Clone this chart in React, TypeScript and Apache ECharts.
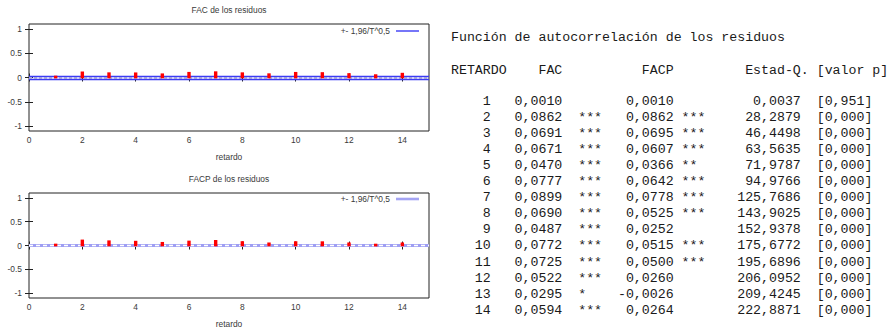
import React, { useEffect, useRef } from 'react';
import * as echarts from 'echarts';

// ---- data ----
const lags = [1, 2, 3, 4, 5, 6, 7, 8, 9, 10, 11, 12, 13, 14];
const facValues = [0.001, 0.0862, 0.0691, 0.0671, 0.047, 0.0777, 0.0899, 0.069, 0.0487, 0.0772, 0.0725, 0.0522, 0.0295, 0.0594];
const facStars = ['', '***', '***', '***', '***', '***', '***', '***', '***', '***', '***', '***', '*', '***'];
const facpValues = [0.001, 0.0862, 0.0695, 0.0607, 0.0366, 0.0642, 0.0778, 0.0525, 0.0252, 0.0515, 0.05, 0.026, -0.0026, 0.0264];
const facpStars = ['', '***', '***', '***', '**', '***', '***', '***', '', '***', '***', '', '', ''];
const qStats = [0.0037, 28.2879, 46.4498, 63.5635, 71.9787, 94.9766, 125.7686, 143.9025, 152.9378, 175.6772, 195.6896, 206.0952, 209.4245, 222.8871];
const pValues = [0.951, 0, 0, 0, 0, 0, 0, 0, 0, 0, 0, 0, 0, 0];
const xTicks = [0, 2, 4, 6, 8, 10, 12, 14];
const yTicks = [-1, -0.5, 0, 0.5, 1];
const bandLimit = 0.032; // 1,96/T^0,5
const chartTitles = ['FAC de los residuos', 'FACP de los residuos'];
const legendLabel = '+- 1,96/T^0,5';
const xAxisName = 'retardo';
const tableTitle = 'Función de autocorrelación de los residuos';
const tableHeaders = ['RETARDO', 'FAC', 'FACP', 'Estad-Q.', '[valor p]'];

const fmt = (v: number, d: number) => v.toFixed(d).replace('.', ',');

const SANS = '"Liberation Sans", Arial, sans-serif';
const MONO = '"Liberation Mono", "Courier New", monospace';
const TXT = '#3a3a3a';
const FS = 8.4;

export default function App() {
  const ref = useRef<HTMLDivElement>(null);

  useEffect(() => {
    if (!ref.current) return;
    const chart = echarts.init(ref.current, undefined, { renderer: 'svg' });

    const grids = [
      { left: 29, top: 24, width: 400, height: 107 },
      { left: 29, top: 193, width: 400, height: 106 },
    ];

    const xAxes: any[] = [];
    const yAxes: any[] = [];
    grids.forEach((_, g) => {
      xAxes.push({
        gridIndex: g, type: 'value', min: 0, max: 15, position: 'bottom',
        axisLine: { show: false }, splitLine: { show: false },
        axisTick: { show: true, inside: true, length: 4, customValues: xTicks, lineStyle: { color: '#222' } },
        axisLabel: { show: true, customValues: xTicks, margin: 5, fontSize: FS, fontFamily: SANS, color: TXT },
        name: xAxisName, nameLocation: 'middle', nameGap: 22,
        nameTextStyle: { fontSize: FS, fontFamily: SANS, color: TXT },
      });
      xAxes.push({
        gridIndex: g, type: 'value', min: 0, max: 15, position: 'top',
        axisLine: { show: false }, splitLine: { show: false },
        axisTick: { show: true, inside: true, length: 4, customValues: xTicks, lineStyle: { color: '#222' } },
        axisLabel: { show: false },
      });
      yAxes.push({
        gridIndex: g, type: 'value', min: -1.1, max: 1.1, position: 'left',
        axisLine: { show: false }, splitLine: { show: false },
        axisTick: { show: true, inside: true, length: 4, customValues: yTicks, lineStyle: { color: '#222' } },
        axisLabel: { show: true, customValues: yTicks, margin: 7, fontSize: FS, fontFamily: SANS, color: TXT },
      });
      yAxes.push({
        gridIndex: g, type: 'value', min: -1.1, max: 1.1, position: 'right',
        axisLine: { show: false }, splitLine: { show: false },
        axisTick: { show: true, inside: true, length: 4, customValues: yTicks, lineStyle: { color: '#222' } },
        axisLabel: { show: false },
      });
    });

    const stemSeries = (g: number, values: number[]) => ({
      type: 'custom',
      xAxisIndex: g * 2, yAxisIndex: g * 2,
      z: 5,
      data: lags.map((l, i) => [l, values[i]]),
      encode: { x: 0, y: 1 },
      renderItem: (_p: any, api: any) => {
        const top = api.coord([api.value(0), api.value(1)]);
        const base = api.coord([api.value(0), 0]);
        const y1 = Math.min(top[1], base[1]) - 1.8;
        const y2 = Math.max(top[1], base[1]) + 0.8;
        return {
          type: 'rect',
          shape: { x: top[0] - 1.7, y: y1, width: 3.4, height: y2 - y1 },
          style: { fill: '#ff0000' },
        };
      },
    });

    const series: any[] = [
      {
        type: 'line', xAxisIndex: 0, yAxisIndex: 0, z: 2,
        data: lags.map((l, i) => [l, facValues[i]]),
        symbol: 'none', lineStyle: { opacity: 0 }, silent: true,
        markLine: {
          silent: true, symbol: 'none', label: { show: false },
          data: [
            { yAxis: 0, lineStyle: { color: '#c4c4d4', width: 2, type: [3, 2] } },
            { yAxis: bandLimit, lineStyle: { color: '#3b3bf5', width: 1.3, type: 'solid' } },
            { yAxis: -bandLimit, lineStyle: { color: '#3b3bf5', width: 1.3, type: 'solid' } },
          ],
        },
      },
      stemSeries(0, facValues),
      {
        type: 'line', xAxisIndex: 2, yAxisIndex: 2, z: 2,
        data: lags.map((l, i) => [l, facpValues[i]]),
        symbol: 'none', lineStyle: { opacity: 0 }, silent: true,
        markArea: {
          silent: true,
          itemStyle: { color: '#9e9ef3', opacity: 1 },
          data: [[{ yAxis: -bandLimit }, { yAxis: bandLimit }]],
        },
        markLine: {
          silent: true, symbol: 'none', label: { show: false },
          data: [{ yAxis: 0, lineStyle: { color: '#ffffff', width: 1.3, type: [4, 3] } }],
        },
      },
      stemSeries(1, facpValues),
    ];

    // graphic texts: chart titles, legends, table
    const graphic: any[] = [];
    const plotCenterX = 229;
    [10, 179].forEach((y, i) => {
      graphic.push({
        type: 'text', x: plotCenterX, y,
        style: { text: chartTitles[i], font: `${FS}px ${SANS}`, fill: TXT, align: 'center', verticalAlign: 'middle' },
      });
    });
    [
      { y: 31, color: '#3b3bf5', w: 1.4 },
      { y: 199, color: '#a4a4f3', w: 2.6 },
    ].forEach((lg) => {
      graphic.push({
        type: 'text', x: 390, y: lg.y,
        style: { text: legendLabel, font: `${FS}px ${SANS}`, fill: TXT, align: 'right', verticalAlign: 'middle' },
      });
      graphic.push({
        type: 'line', shape: { x1: 396, y1: lg.y, x2: 419, y2: lg.y },
        style: { stroke: lg.color, lineWidth: lg.w },
      });
    });

    // monospace table
    const x0 = 451;
    const cw = 7.95;
    const mfs = cw / 0.6;
    const mono = `${mfs}px ${MONO}`;
    const tcol = '#1a1a1a';
    const cell = (text: string, col: number, y: number, align: 'left' | 'right') => {
      graphic.push({
        type: 'text', x: x0 + col * cw, y,
        style: { text, font: mono, fill: tcol, align, verticalAlign: 'middle' },
      });
    };
    cell(tableTitle, 0, 37, 'left');
    const headerCols = [0, 11, 24, 37, 46];
    tableHeaders.forEach((h, i) => cell(h, headerCols[i], 70, 'left'));
    lags.forEach((l, i) => {
      const y = 101 + i * 16.1;
      cell(String(l), 5, y, 'right');
      cell(fmt(facValues[i], 4), 14, y, 'right');
      cell(facStars[i], 16, y, 'left');
      cell(fmt(facpValues[i], 4), 28, y, 'right');
      cell(facpStars[i], 29, y, 'left');
      cell(fmt(qStats[i], 4), 44, y, 'right');
      cell('[' + fmt(pValues[i], 3) + ']', 46, y, 'left');
    });

    chart.setOption({
      animation: false,
      backgroundColor: '#ffffff',
      grid: grids.map((g) => ({ ...g, show: true, borderColor: '#222222', borderWidth: 1, backgroundColor: 'transparent' })),
      xAxis: xAxes,
      yAxis: yAxes,
      series,
      graphic,
    });

    return () => chart.dispose();
  }, []);

  return (
    <div
      ref={ref}
      style={{ position: 'absolute', left: 0, top: 0, width: 889, height: 329, background: '#fff' }}
    />
  );
}
